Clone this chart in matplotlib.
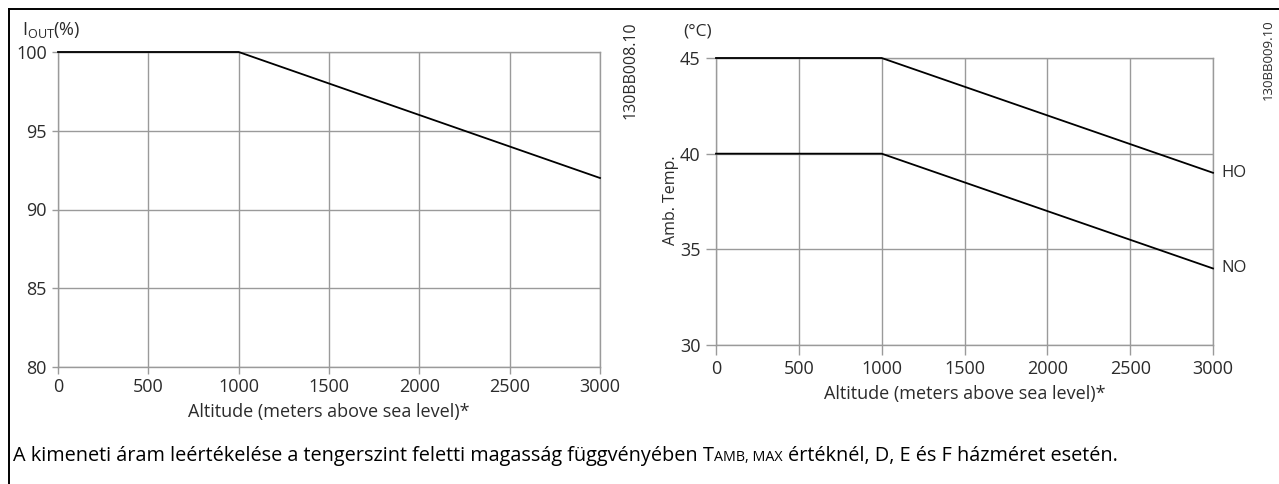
import matplotlib
matplotlib.use("Agg")
import matplotlib.pyplot as plt
from matplotlib.lines import Line2D
from matplotlib.offsetbox import TextArea, HPacker, DrawingArea, AnchoredOffsetbox

plt.rcParams['font.family'] = ['Open Sans', 'DejaVu Sans']

# Output current derating vs altitude
altitude = [0, 1000, 3000]
iout_pct = [100, 100, 92]

# Ambient temperature derating vs altitude
temp_ho = [45, 45, 39]
temp_no = [40, 40, 34]

x_ticks = [0, 500, 1000, 1500, 2000, 2500, 3000]
iout_ticks = [80, 85, 90, 95, 100]
temp_ticks = [30, 35, 40, 45]

GRID = '#9a9a9a'
TXT = '#2b2b2b'
TICK_FS = 13
LABEL_FS = 13

fig = plt.figure(figsize=(12.79, 4.84), dpi=100)

def style(ax, yticks, xlen, ylen, xpad, ypad):
    ax.set_xlim(0, 3000)
    ax.set_xticks(x_ticks)
    ax.set_yticks(yticks)
    ax.set_ylim(yticks[0], yticks[-1])
    ax.grid(True, color=GRID, lw=1)
    for s in ax.spines.values():
        s.set_color(GRID)
        s.set_linewidth(1)
    ax.tick_params(axis='x', length=xlen, width=1, color=GRID, labelsize=TICK_FS,
                   labelcolor=TXT, pad=xpad)
    ax.tick_params(axis='y', length=ylen, width=1, color=GRID, labelsize=TICK_FS,
                   labelcolor=TXT, pad=ypad)
    ax.set_xlabel('Altitude (meters above sea level)*', fontsize=LABEL_FS,
                  color=TXT, labelpad=5)

# Left chart: output current
ax1 = fig.add_axes([58/1279, 1-367/484, 542/1279, 315/484])
style(ax1, iout_ticks, 5, 4, 3, 4)
ax1.plot(altitude, iout_pct, color='black', lw=1.3, clip_on=False, zorder=3)
fig.text(22/1279, 1-30/484, r'I$_\mathregular{OUT}$(%)', fontsize=13, color=TXT,
         ha='left', va='center')
fig.text(631/1279, 1-21/484, '130BB008.10', rotation=90, fontsize=11.5,
         color=TXT, ha='center', va='top')

# Right chart: ambient temperature
ax2 = fig.add_axes([716/1279, 1-345/484, 497/1279, 287/484])
style(ax2, temp_ticks, 7, 7, 4, 4)
ax2.plot(altitude, temp_ho, color='black', lw=1.3, clip_on=False, zorder=3)
ax2.plot(altitude, temp_no, color='black', lw=1.3, clip_on=False, zorder=3)
ax2.annotate('HO', xy=(altitude[-1], temp_ho[-1]), xytext=(6, 0),
             textcoords='offset points', fontsize=12, color=TXT,
             ha='left', va='center', annotation_clip=False)
ax2.annotate('NO', xy=(altitude[-1], temp_no[-1]), xytext=(6, 0),
             textcoords='offset points', fontsize=12, color=TXT,
             ha='left', va='center', annotation_clip=False)
fig.text(671/1279, 1-200/484, 'Amb. Temp.', rotation=90, fontsize=11.5,
         color=TXT, ha='center', va='center')
fig.text(698/1279, 1-31/484, '(°C)', fontsize=12.5, color=TXT,
         ha='center', va='center')
fig.text(1268/1279, 1-19/484, '130BB009.10', rotation=90, fontsize=9.5,
         color=TXT, ha='center', va='top')

# Frame lines on the top and left edges
fig.add_artist(Line2D([9/1279, 1], [1-9/484, 1-9/484], color='black', lw=1.4,
                      transform=fig.transFigure))
fig.add_artist(Line2D([9/1279, 9/1279], [1-9/484, 0], color='black', lw=1.4,
                      transform=fig.transFigure))

# Caption with small-caps subscript
CFS = 14.3
cap_props = dict(fontsize=CFS, color='black')
small_props = dict(fontsize=CFS*0.72, color='black')
parts = [
    TextArea('A kimeneti áram leértékelése a tengerszint feletti magasság függvényében',
             textprops=cap_props),
    DrawingArea(3.9, 0),
    TextArea('T', textprops=cap_props),
    TextArea('AMB, MAX', textprops=small_props),
    DrawingArea(3.9, 0),
    TextArea('értéknél, D, E és F házméret esetén.', textprops=cap_props),
]
pack = HPacker(children=parts, align='baseline', pad=0, sep=0)
box = AnchoredOffsetbox(loc='center left', child=pack, pad=0, borderpad=0,
                        frameon=False, bbox_to_anchor=(13/1279, 1-456/484),
                        bbox_transform=fig.transFigure)
fig.add_artist(box)

fig.savefig('out.png', dpi=100)
